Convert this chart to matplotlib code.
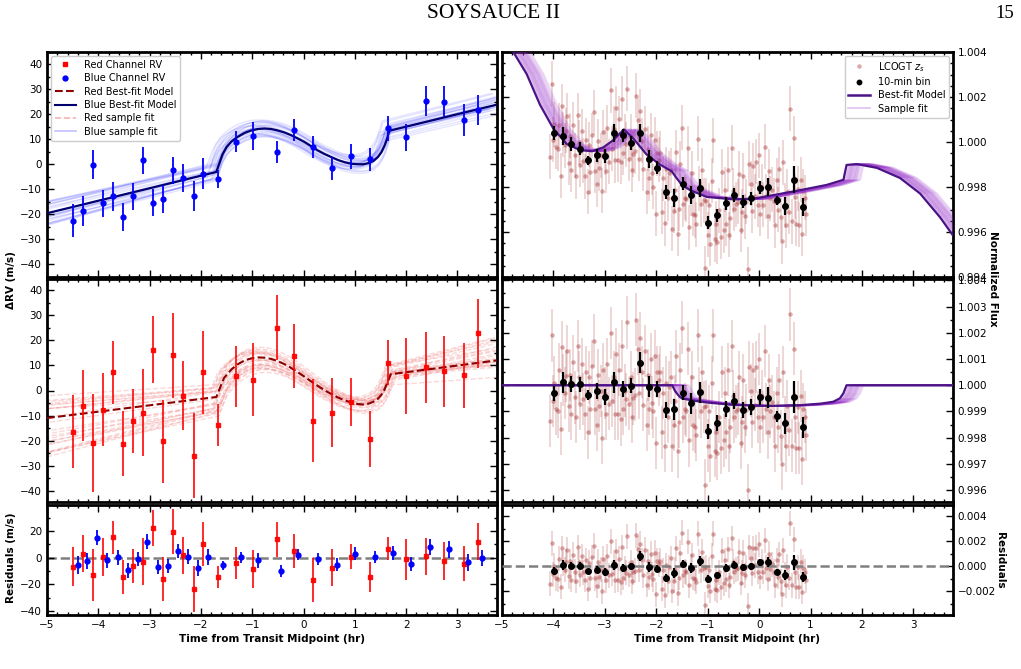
import numpy as np
import matplotlib
matplotlib.use('Agg')
import matplotlib.pyplot as plt
from matplotlib.ticker import MultipleLocator, FuncFormatter
from matplotlib.lines import Line2D

# ---------------- RV data (hours from mid-transit, m/s) ----------------
rv_t = [-4.49, -4.30, -4.11, -3.91, -3.71, -3.51, -3.32, -3.13, -2.93, -2.73,
        -2.54, -2.34, -2.14, -1.95, -1.66, -1.31, -0.98, -0.52, -0.19, 0.19,
        0.56, 0.92, 1.30, 1.65, 2.00, 2.38, 2.74, 3.12, 3.40]
blue_rv = [-22.6, -18.5, -0.1, -15.6, -12.8, -21.1, -12.8, 1.6, -15.4, -13.8,
           -2.4, -5.6, -12.6, -3.8, -5.8, 9.1, 11.3, 5.0, 13.6, 7.1,
           -1.5, 3.2, 2.0, 14.4, 10.9, 25.4, 25.1, 17.7, 21.7]
blue_err = [6.6, 6.0, 5.7, 5.5, 5.8, 5.6, 5.5, 5.5, 5.4, 5.5,
            5.4, 5.6, 6.0, 6.2, 3.5, 4.2, 5.6, 4.4, 4.4, 4.4,
            4.6, 5.0, 4.6, 5.0, 5.4, 6.0, 6.2, 6.3, 5.9]
red_rv = [-16.4, -6.0, -20.9, -7.7, 7.3, -21.3, -12.3, -8.8, 16.3, -20.3,
          14.0, -2.1, -26.0, 7.3, -13.7, 5.6, 4.3, 25.1, 13.7, -12.0,
          -8.8, -4.5, -19.3, 11.1, 5.9, 9.2, 7.6, 6.1, 22.8]
red_err = [14.7, 14.1, 19.5, 14.6, 12.5, 13.0, 12.8, 17.3, 13.5, 16.5,
           17.1, 13.8, 17.1, 16.5, 8.5, 12.1, 14.5, 13.0, 12.8, 16.5,
           13.7, 9.5, 11.3, 8.9, 15.1, 14.0, 14.1, 13.0, 13.9]
red_res = [-6.8, 3.1, -13.0, 0.5, 15.3, -14.5, -6.2, -2.9, 22.6, -16.1,
           19.5, 1.8, -23.6, 10.1, -14.5, -4.2, -8.6, 13.8, 5.2, -16.6,
           -7.5, 0.8, -14.8, 6.8, -1.3, 1.0, -2.3, -4.4, 11.9]
blue_res = [-5.5, -2.6, 15.1, -2.1, 0.3, -9.4, -1.0, 11.9, -6.8, -6.2,
            5.2, 0.8, -7.5, 0.5, -5.7, 0.3, -2.1, -9.9, 2.3, -0.8,
            -5.2, 2.9, 0.5, 3.4, -4.7, 8.3, 6.2, -3.6, 0.0]
blue_res_shift = 0.085   # horizontal offset of blue residuals for visibility

# Best-fit RV models (knots)
blue_mod_t = [-5.0, -1.70, -1.64, -1.58, -1.50, -1.40, -1.28, -1.15, -1.02, -0.89,
              -0.76, -0.63, -0.50, -0.37, -0.24, -0.11, 0.02, 0.15, 0.28, 0.41,
              0.54, 0.67, 0.80, 0.93, 1.06, 1.16, 1.26, 1.36, 1.45, 1.52,
              1.58, 1.63, 1.67, 3.80]
blue_mod_v = [-19.5, -3.0, 0.5, 4.0, 7.0, 9.3, 11.1, 12.6, 13.6, 14.2,
              14.4, 14.2, 13.6, 12.8, 11.7, 10.4, 9.0, 7.3, 5.6, 4.2,
              3.0, 1.8, 0.9, 0.3, 0.1, 0.1, 0.5, 1.4, 3.0, 5.0,
              7.6, 10.5, 13.5, 24.1]
red_mod_t = [-5.0, -1.70, -1.62, -1.55, -1.40, -1.28, -1.15, -1.02, -0.89, -0.76,
             -0.63, -0.50, -0.37, -0.24, -0.11, 0.02, 0.15, 0.28, 0.41, 0.54,
             0.67, 0.80, 0.93, 1.06, 1.16, 1.26, 1.36, 1.45, 1.52, 1.58,
             1.64, 1.70, 3.80]
red_mod_v = [-11.0, -2.6, 1.5, 5.0, 8.5, 10.5, 12.0, 12.8, 13.2, 13.1,
             12.6, 11.7, 10.5, 9.0, 7.3, 5.5, 3.6, 1.8, 0.1, -1.4,
             -2.8, -3.9, -4.8, -5.4, -5.6, -5.3, -4.5, -3.3, -1.6, 0.5,
             3.5, 6.5, 12.1]

# posterior sample perturbations (offset, slope, time shift)
blue_s_dc = [-3.0, 2.5, -1.8, 1.2, -0.6, 3.2, -2.4, 0.5, 1.8, -1.1, 2.9, -3.4,
             0.0, 1.5, -2.0, 0.9, -0.3, 2.2, -1.5, 3.6, -2.8, 0.3, 1.0, -0.9]
blue_s_ds = [0.3, -0.4, 0.6, 0.2, -0.5, -0.1, 0.4, -0.7, 0.5, 0.0, 0.3, -0.2,
             0.7, -0.6, 0.1, 0.5, -0.3, -0.5, 0.6, 0.2, -0.1, 0.4, -0.4, 0.8]
blue_s_dt = [0.0, -0.05, -0.10, 0.04, -0.15, 0.02, -0.08, -0.20, 0.05, -0.03, -0.12, 0.0,
             -0.06, 0.03, -0.18, -0.02, -0.09, 0.06, -0.04, -0.14, 0.01, -0.07, -0.11, -0.01]
red_s_dc = [-3.0, 1.5, -1.0, 2.5, -2.2, 0.5, -4.0, 1.0, -1.5, 3.0, -0.5, -2.8,
            2.0, 0.0, -3.5, 1.8, -1.2, 0.8, -2.0, 2.8, -0.8, -1.8, 1.2, -4.5]
red_s_ds = [1.5, -1.0, 2.5, 0.5, -1.2, 1.8, 1.0, -0.8, 2.8, -1.2, 0.3, 2.2,
            -1.0, 1.2, 0.8, -0.4, 2.0, -0.9, 1.5, -0.6, 2.6, 0.6, -0.5, 1.8]
red_s_dt = [0.0, -0.06, 0.05, -0.10, 0.03, -0.04, 0.08, -0.12, 0.0, 0.06, -0.08, 0.02,
            -0.02, 0.10, -0.05, 0.04, -0.09, 0.07, -0.03, 0.01, -0.07, 0.09, -0.01, 0.05]

# ---------------- Light curve data ----------------
lc_bin_t = [-3.99, -3.82, -3.66, -3.49, -3.32, -3.15, -2.99, -2.82, -2.65, -2.49,
            -2.32, -2.15, -1.99, -1.82, -1.65, -1.49, -1.32, -1.15, -0.99, -0.82,
            -0.65, -0.49, -0.32, -0.15, 0.01, 0.18, 0.35, 0.51, 0.68, 0.85]
lc_bin_raw = [1.00039, 1.00026, 0.99991, 0.99971, 0.99920, 0.99941, 0.99938, 1.00041, 1.00029, 0.99995,
              1.00042, 0.99923, 0.99886, 0.99777, 0.99753, 0.99815, 0.99764, 0.99797, 0.99642, 0.99674,
              0.99727, 0.99764, 0.99735, 0.99750, 0.99797, 0.99802, 0.99741, 0.99715, 0.99833, 0.99712]
lc_bin_det = [0.99969, 1.00011, 1.00004, 1.00003, 0.99962, 0.99978, 0.99955, 1.00012, 0.99986, 0.99999,
              1.00086, 0.99994, 0.99985, 0.99907, 0.99908, 0.99972, 0.99932, 0.99973, 0.99824, 0.99857,
              0.99910, 0.99940, 0.99906, 0.99916, 0.99955, 0.99953, 0.99881, 0.99855, 0.99956, 0.99840]
lc_bin_res = [-0.00035, 0.00011, 0.00005, 0.00005, -0.00038, -0.00027, -0.00046, 0.00011, -0.00014, 0.0,
              0.00086, -0.00005, -0.00019, -0.00095, -0.00057, 0.00022, -0.00011, 0.00041, -0.00103, -0.00073,
              -0.00014, 0.00014, -0.00008, 0.0, 0.00032, 0.00032, -0.00043, -0.00068, 0.00032, -0.00084]
lc_bin_err = [0.0003, 0.0004, 0.0003, 0.0003, 0.0002, 0.0003, 0.0003, 0.0004, 0.0003, 0.0003,
              0.0004, 0.0004, 0.0003, 0.0003, 0.0004, 0.0003, 0.0004, 0.0004, 0.0003, 0.0003,
              0.0003, 0.0003, 0.0003, 0.0003, 0.0003, 0.0004, 0.0002, 0.0004, 0.0006, 0.0004]

# un-binned exposures, grouped by 10-min bin (times in hr, detrended flux in ppm from 1)
lc_t = [
    [-4.06, -4.03, -4.00, -3.98, -3.95, -3.92], [-3.89, -3.86, -3.83, -3.81, -3.78, -3.75],
    [-3.73, -3.70, -3.67, -3.65, -3.62, -3.59], [-3.56, -3.53, -3.50, -3.48, -3.45, -3.42],
    [-3.39, -3.36, -3.33, -3.31, -3.28, -3.25], [-3.22, -3.19, -3.16, -3.14, -3.11, -3.08],
    [-3.06, -3.03, -3.00, -2.98, -2.95, -2.92], [-2.89, -2.86, -2.83, -2.81, -2.78, -2.75],
    [-2.72, -2.69, -2.66, -2.64, -2.61, -2.58], [-2.56, -2.53, -2.50, -2.48, -2.45, -2.42],
    [-2.39, -2.36, -2.33, -2.31, -2.28, -2.25], [-2.22, -2.19, -2.16, -2.14, -2.11, -2.08],
    [-2.06, -2.03, -2.00, -1.98, -1.95, -1.92], [-1.89, -1.86, -1.83, -1.81, -1.78, -1.75],
    [-1.72, -1.69, -1.66, -1.64, -1.61, -1.58], [-1.56, -1.53, -1.50, -1.48, -1.45, -1.42],
    [-1.39, -1.36, -1.33, -1.31, -1.28, -1.25], [-1.22, -1.19, -1.16, -1.14, -1.11, -1.08],
    [-1.06, -1.03, -1.00, -0.98, -0.95, -0.92], [-0.89, -0.86, -0.83, -0.81, -0.78, -0.75],
    [-0.72, -0.69, -0.66, -0.64, -0.61, -0.58], [-0.56, -0.53, -0.50, -0.48, -0.45, -0.42],
    [-0.39, -0.36, -0.33, -0.31, -0.28, -0.25], [-0.22, -0.19, -0.16, -0.14, -0.11, -0.08],
    [-0.06, -0.03, 0.00, 0.02, 0.05, 0.08], [0.11, 0.14, 0.17, 0.19, 0.22, 0.25],
    [0.28, 0.31, 0.34, 0.36, 0.39, 0.42], [0.44, 0.47, 0.50, 0.52, 0.55, 0.58],
    [0.61, 0.64, 0.67, 0.69, 0.72, 0.75], [0.78, 0.81, 0.84, 0.86, 0.89, 0.92]]
lc_ppm = [
    [-1350, 1900, -600, 100, -900, -1000], [600, -1650, 1450, 200, -300, 360],
    [1300, -800, 400, -1100, 900, -460], [-1200, 1500, 300, -700, 800, -520],
    [-1100, 500, -1800, 300, -900, 720], [1700, -900, -1500, 400, -800, -220],
    [-2000, 600, -300, -1100, 800, -700], [2000, -600, 300, -1100, 1200, -1080],
    [600, -1300, 1500, -900, -200, -540], [2400, -700, 300, -1200, -500, -360],
    [2500, 1400, -300, 1800, 500, -740], [1300, -1500, 400, -900, 1000, -660],
    [-1000, 1100, -2200, 500, 200, 500], [-1800, -300, -2300, 100, -1200, -80],
    [300, -2300, -1500, -600, 1100, -2520], [-1400, 600, 2200, -1200, -900, -980],
    [1400, -2100, -600, 300, -1500, -1580], [-1900, 1900, -300, -1000, 500, -820],
    [-3800, -800, -2300, -1000, -2700, 100], [1900, -2500, -1800, -2600, -1200, -2380],
    [500, -2100, -300, -1800, 600, -2300], [-1600, 1500, -400, -1200, -1000, -900],
    [300, -2200, -1400, 200, -1600, -940], [-4000, 700, -200, -1400, 600, -740],
    [700, -1200, 1000, -1600, -400, -1200], [1300, -900, -1800, 200, -1000, -620],
    [-1200, -2300, -300, -1600, 200, -1940], [-3000, 500, -1400, -2300, -800, -1700],
    [2700, -2300, 1400, -1200, -2400, -840], [-2400, -400, -2800, -900, -1200, -1900]]
lc_err = 0.001

# light-curve models (knots)
lc_raw_mod_t = [-5.0, -4.78, -4.52, -4.26, -4.0, -3.74, -3.48, -3.25, -3.03, -2.83,
                -2.63, -2.44, -2.19, -1.93, -1.70, -1.60, -1.50, -1.34, -1.02, -0.50,
                -0.11, 0.28, 0.80, 1.31, 1.64, 1.70, 1.90, 2.29, 2.74, 3.13, 3.52, 3.80]
lc_raw_mod_f = [1.00483, 1.00400, 1.00302, 1.00165, 1.00059, 0.99991, 0.99964, 0.99959, 0.99976, 1.00009,
                1.00056, 1.00014, 0.99945, 0.99900, 0.99870, 0.99838, 0.99809, 0.99786, 0.99756, 0.99745,
                0.99748, 0.99764, 0.99786, 0.99809, 0.99832, 0.99898, 0.99902, 0.99885, 0.99840, 0.99771,
                0.99665, 0.99575]
lc_det_mod_t = [-5.0, -1.69, -1.64, -1.60, -1.55, -1.50, -1.30, -1.00, -0.50, 0.15,
                0.80, 1.20, 1.44, 1.57, 1.64, 1.70, 3.80]
lc_det_mod_f = [1.0, 1.0, 0.9998, 0.99969, 0.99957, 0.9995, 0.99942, 0.99934, 0.99925, 0.99921,
                0.99924, 0.99930, 0.99937, 0.9995, 0.9997, 1.0, 1.0]
lc_s_dt = [0.03, 0.06, 0.09, 0.12, 0.15, 0.18, 0.21, 0.24, 0.27, 0.30,
           0.05, 0.10, 0.14, 0.20, 0.25, 0.08, 0.17, 0.22, 0.12, 0.33]

# ---------------- Figure ----------------
plt.rcParams['font.family'] = ['DejaVu Sans']
fig = plt.figure(figsize=(10.21, 6.69), dpi=100)

W, H = 1021.0, 669.0
def pos(x0, y0, x1, y1):
    return [x0 / W, 1 - y1 / H, (x1 - x0) / W, (y1 - y0) / H]

ax_rv_b = fig.add_axes(pos(47, 52, 497, 277))
ax_rv_r = fig.add_axes(pos(47, 279, 497, 502))
ax_rv_res = fig.add_axes(pos(47, 505, 497, 615))
ax_lc_raw = fig.add_axes(pos(502, 52, 953, 277))
ax_lc_det = fig.add_axes(pos(502, 279, 953, 502))
ax_lc_res = fig.add_axes(pos(502, 505, 953, 615))

TICK_FS = 7.5
def style(ax, right=False, xlabels=False):
    ax.set_xlim(-5, 3.77)
    ax.xaxis.set_major_locator(MultipleLocator(1))
    ax.xaxis.set_minor_locator(MultipleLocator(0.2))
    ax.tick_params(which='both', direction='in', top=True, right=True, bottom=True, left=True,
                   labelsize=TICK_FS, width=1, colors='black')
    ax.tick_params(which='major', length=5)
    ax.tick_params(which='minor', length=2.5)
    if right:
        ax.tick_params(labelleft=False, labelright=True)
    if not xlabels:
        ax.tick_params(labelbottom=False)
    for s in ax.spines.values():
        s.set_linewidth(2)

minus_fmt = lambda fmt: FuncFormatter(lambda v, p: (fmt % v).replace('-', '\u2212'))

# ---- Blue RV panel ----
bt = np.array(blue_mod_t); bv = np.array(blue_mod_v)
for dc, ds, dt in zip(blue_s_dc, blue_s_ds, blue_s_dt):
    ax_rv_b.plot(bt + dt, bv + dc + ds * bt, color='blue', alpha=0.1, lw=1.0, zorder=1)
ax_rv_b.plot(bt, bv, color='#00006e', lw=1.6, zorder=3)
ax_rv_b.errorbar(rv_t, blue_rv, yerr=blue_err, fmt='o', color='blue', ms=3.5,
                 elinewidth=1.3, capsize=0, zorder=4)
ax_rv_b.set_ylim(-45, 45)
ax_rv_b.yaxis.set_major_locator(MultipleLocator(10))
ax_rv_b.yaxis.set_minor_locator(MultipleLocator(5))
style(ax_rv_b)

handles = [Line2D([], [], color='red', marker='s', ls='none', ms=3.5),
           Line2D([], [], color='blue', marker='o', ls='none', ms=3.5),
           Line2D([], [], color='#8b0000', ls='--', lw=1.5),
           Line2D([], [], color='#00006e', ls='-', lw=1.5),
           Line2D([], [], color='#f08080', ls='--', lw=1.2, alpha=0.6),
           Line2D([], [], color='blue', ls='-', lw=1.2, alpha=0.25)]
labels = ['Red Channel RV', 'Blue Channel RV', 'Red Best-fit Model', 'Blue Best-fit Model',
          'Red sample fit', 'Blue sample fit']
ax_rv_b.legend(handles, labels, loc='upper left', fontsize=7, frameon=True, framealpha=1,
               edgecolor='#cccccc', borderpad=0.4, labelspacing=0.35, handlelength=2.2,
               borderaxespad=0.4)

# ---- Red RV panel ----
rt = np.array(red_mod_t); rv_ = np.array(red_mod_v)
for dc, ds, dt in zip(red_s_dc, red_s_ds, red_s_dt):
    ax_rv_r.plot(rt + dt, rv_ + dc + ds * rt, color='#f08080', alpha=0.3, lw=1.0, ls='--', zorder=1)
ax_rv_r.plot(rt, rv_, color='#8b0000', lw=1.5, ls='--', zorder=3)
ax_rv_r.errorbar(rv_t, red_rv, yerr=red_err, fmt='s', color='red', ms=3.5,
                 elinewidth=1.3, capsize=0, zorder=4, alpha=0.9)
ax_rv_r.set_ylim(-44.5, 44.5)
ax_rv_r.yaxis.set_major_locator(MultipleLocator(10))
ax_rv_r.yaxis.set_minor_locator(MultipleLocator(5))
style(ax_rv_r)

# ---- RV residuals ----
ax_rv_res.axhline(0, color='gray', ls='--', lw=1.8, zorder=1)
ax_rv_res.errorbar(rv_t, red_res, yerr=red_err, fmt='s', color='red', ms=3.5,
                   elinewidth=1.3, capsize=0, zorder=3, alpha=0.9)
ax_rv_res.errorbar(np.array(rv_t) + blue_res_shift, blue_res, yerr=blue_err, fmt='o', color='blue',
                   ms=3.5, elinewidth=1.3, capsize=0, zorder=4)
ax_rv_res.set_ylim(-43, 39.5)
ax_rv_res.yaxis.set_major_locator(MultipleLocator(20))
ax_rv_res.yaxis.set_minor_locator(MultipleLocator(10))
style(ax_rv_res, xlabels=True)
ax_rv_res.set_xlabel('Time from Transit Midpoint (hr)', fontsize=7.5, fontweight='bold', labelpad=3)

# ---- Light curves ----
PT_COL = '#a52a2a'
t_flat, det_flat, raw_flat, res_flat = [], [], [], []
for i, (tt, pp) in enumerate(zip(lc_t, lc_ppm)):
    for t1, p1 in zip(tt, pp):
        f = 1.0 + p1 * 1e-6
        t_flat.append(t1)
        det_flat.append(f)
        raw_flat.append(f + (lc_bin_raw[i] - lc_bin_det[i]))
        res_flat.append(f - (lc_bin_det[i] - lc_bin_res[i]))

def lc_points(ax, y, by):
    ax.errorbar(t_flat, y, yerr=lc_err, fmt='none', ecolor=PT_COL, alpha=0.22, elinewidth=1.2, zorder=1)
    ax.plot(t_flat, y, 'o', color=PT_COL, alpha=0.4, ms=3.2, mec='none', zorder=2)
    ax.errorbar(lc_bin_t, by, yerr=lc_bin_err, fmt='o', color='black', ms=4,
                elinewidth=1.6, capsize=0, zorder=6)

MOD_COL = '#4b1385'
SAMP_COL = '#9932cc'
mt = np.array(lc_raw_mod_t); mf = np.array(lc_raw_mod_f)
for dt in lc_s_dt:
    ax_lc_raw.plot(mt + dt, mf, color=SAMP_COL, alpha=0.18, lw=1.2, zorder=3)
ax_lc_raw.plot(mt, mf, color=MOD_COL, lw=1.6, zorder=4)
lc_points(ax_lc_raw, raw_flat, lc_bin_raw)
ax_lc_raw.set_ylim(0.994, 1.004)
ax_lc_raw.yaxis.set_major_locator(MultipleLocator(0.002))
ax_lc_raw.yaxis.set_minor_locator(MultipleLocator(0.0005))
ax_lc_raw.yaxis.set_major_formatter(minus_fmt('%.3f'))
style(ax_lc_raw, right=True)

lh = [Line2D([], [], color=PT_COL, marker='o', ls='none', ms=3.2, alpha=0.4, mec='none'),
      Line2D([], [], color='black', marker='o', ls='none', ms=3.2),
      Line2D([], [], color=MOD_COL, lw=1.8),
      Line2D([], [], color=SAMP_COL, lw=1.2, alpha=0.3)]
ax_lc_raw.legend(lh, ['LCOGT $z_s$', '10-min bin', 'Best-fit Model', 'Sample fit'],
                 loc='upper right', fontsize=7, frameon=True, framealpha=1, edgecolor='#cccccc',
                 borderpad=0.4, labelspacing=0.35, handlelength=2.2, borderaxespad=0.4)

dt_ = np.array(lc_det_mod_t); df_ = np.array(lc_det_mod_f)
for dt in lc_s_dt:
    ax_lc_det.plot(dt_ + dt, df_, color=SAMP_COL, alpha=0.18, lw=1.2, zorder=3)
ax_lc_det.plot(dt_, df_, color=MOD_COL, lw=1.6, zorder=4)
lc_points(ax_lc_det, det_flat, lc_bin_det)
ax_lc_det.set_ylim(0.99555, 1.00405)
ax_lc_det.yaxis.set_major_locator(MultipleLocator(0.001))
ax_lc_det.yaxis.set_minor_locator(MultipleLocator(0.0005))
ax_lc_det.yaxis.set_major_formatter(minus_fmt('%.3f'))
style(ax_lc_det, right=True)

ax_lc_res.axhline(0, color='gray', ls='--', lw=1.8, zorder=5)
lc_points(ax_lc_res, res_flat, lc_bin_res)
ax_lc_res.set_ylim(-0.0039, 0.0049)
ax_lc_res.yaxis.set_major_locator(MultipleLocator(0.002))
ax_lc_res.yaxis.set_minor_locator(MultipleLocator(0.001))
ax_lc_res.yaxis.set_major_formatter(minus_fmt('%.3f'))
style(ax_lc_res, right=True, xlabels=True)
ax_lc_res.set_xlabel('Time from Transit Midpoint (hr)', fontsize=7.5, fontweight='bold', labelpad=3)

# ---- labels / header ----
fig.text(11 / W, 1 - 280 / H, '\u0394RV (m/s)', rotation=90, ha='center', va='center',
         fontsize=7.5, fontweight='bold')
fig.text(11 / W, 1 - 558 / H, 'Residuals (m/s)', rotation=90, ha='center', va='center',
         fontsize=7.5, fontweight='bold')
fig.text(993 / W, 1 - 279 / H, 'Normalized Flux', rotation=270, ha='center', va='center',
         fontsize=7.5, fontweight='bold')
fig.text(1000 / W, 1 - 560 / H, 'Residuals', rotation=270, ha='center', va='center',
         fontsize=7.5, fontweight='bold')
fig.text(494 / W, 1 - 14 / H, 'SOYSAUCE II', ha='center', va='center',
         fontsize=15.5, family='Liberation Serif')
fig.text(1014 / W, 1 - 14 / H, '15', ha='right', va='center',
         fontsize=13.5, family='Liberation Serif')

fig.savefig('out.png', dpi=100)
